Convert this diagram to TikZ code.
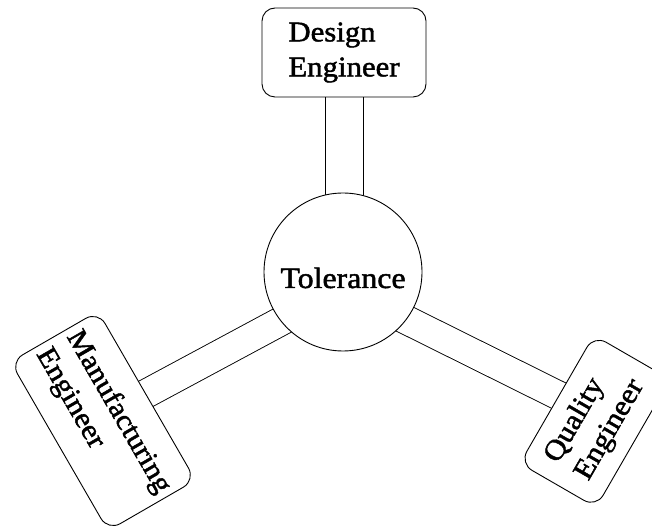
\documentclass[tikz,border=0pt]{standalone}
\usepackage{fontspec}
\setmainfont{Liberation Serif}[FakeStretch=1.08, FakeBold=1.6]
\usetikzlibrary{backgrounds}
\begin{document}
\begin{tikzpicture}[x=1pt,y=1pt,
  line width=0.9pt,
  role/.style={draw, fill=white, rounded corners=14pt, align=left, inner sep=0pt,
    font=\fontsize{28.5}{35}\selectfont},
  stem/.style={double, double distance=28pt, line width=0.9pt}]
\useasboundingbox (0,0) rectangle (652,527);
\clip (0,0) rectangle (652,527);
\node[draw, fill=white, circle, minimum size=158pt, inner sep=0pt,
  text height=32pt, text depth=0pt,
  font=\fontsize{29.5}{36}\selectfont] (tol) at (343,255) {Tolerance};
\node[role, minimum width=164pt, minimum height=89pt, rounded corners=13pt] (de) at (344,474.5) {Design\\Engineer};
\node[role, minimum width=195pt, minimum height=101pt, rotate=-60] (me) at (103,106) {Manufacturing\\Engineer};
\node[role, minimum width=148pt, minimum height=88pt, rotate=60] (qe) at (595,105.7) {Quality\\Engineer};
\coordinate (d1) at ([xshift=-19pt]de.south);
\coordinate (d2) at ([xshift=19pt]de.south);
\coordinate (m1) at (299.1,215.5);
\coordinate (m2) at (119.1,118.8);
\coordinate (q1) at (389.6,215.4);
\coordinate (q2) at (584.4,118.6);
\begin{scope}[on background layer]
\draw (d1) -- (d1 |- tol.center);
\draw (d2) -- (d2 |- tol.center);
\draw[stem] (m1) -- (m2);
\draw[stem] (q1) -- (q2);
\end{scope}
\end{tikzpicture}
\end{document}
